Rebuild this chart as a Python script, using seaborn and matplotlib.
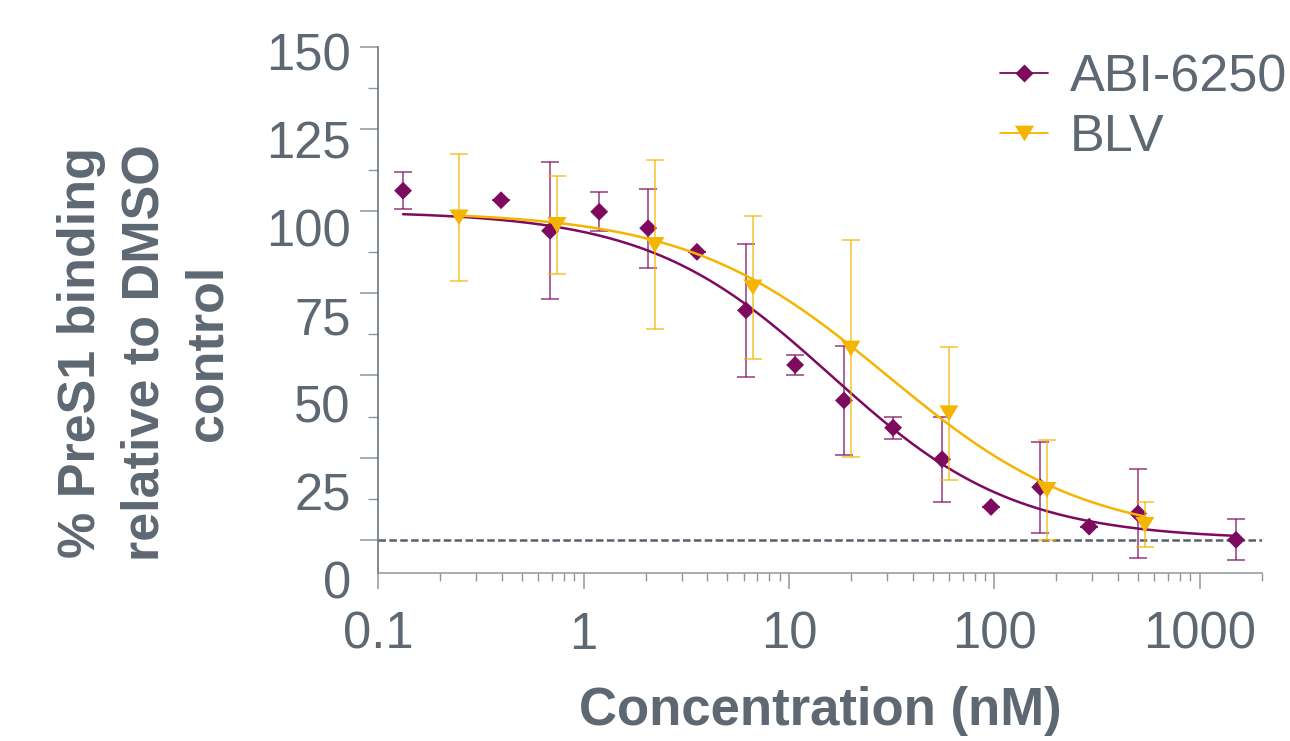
import numpy as np
import pandas as pd
import matplotlib
matplotlib.use("Agg")
import matplotlib.pyplot as plt
import seaborn as sns
from matplotlib.path import Path
from matplotlib.lines import Line2D
from matplotlib.ticker import FixedLocator, AutoMinorLocator, LogLocator, NullFormatter

# ---------------- data ----------------
abi_conc = [0.132, 0.396, 0.686, 1.19, 2.06, 3.56, 6.17, 10.7, 18.5, 32.1, 55.6, 96.2, 167, 289, 500, 1500]
abi_mean = [106.2, 103.3, 94.0, 99.8, 94.8, 87.6, 69.8, 53.2, 42.4, 34.1, 24.5, 10.0, 16.0, 4.0, 8.0, 0.0]
abi_sd = [5.7, 0.0, 20.8, 6.0, 12.0, 0.0, 20.3, 3.0, 16.5, 3.3, 13.0, 0.0, 13.9, 0.0, 13.5, 6.2]

blv_conc = [0.247, 0.741, 2.22, 6.67, 20, 60, 180, 540]
blv_mean = [98.1, 95.8, 89.7, 76.8, 58.2, 38.5, 15.2, 4.6]
blv_sd = [19.4, 15.0, 25.7, 21.7, 33.0, 20.3, 15.2, 6.9]

# four-parameter logistic fit parameters
abi_fit = dict(top=100.0, bottom=0.0, ic50=16.0, hill=0.97)
blv_fit = dict(top=100.0, bottom=0.0, ic50=30.0, hill=0.89)

series_names = ["ABI-6250", "BLV"]
x_ticks = [0.1, 1, 10, 100, 1000]
x_tick_labels = ["0.1", "1", "10", "100", "1000"]
y_ticks = [0, 25, 50, 75, 100, 125, 150]
y_tick_labels = ["0", "25", "50", "75", "100", "125", "150"]
baseline_value = 0.0

# ---------------- style ----------------
PURPLE = "#7e0a60"
GOLD = "#f5b400"
GRAY = "#5d6872"
AXGRAY = "#8e979e"
YSPINE = "#5f6a73"
DASH = "#56606a"

sns.set_style("ticks")
plt.rcParams["font.family"] = ["Liberation Sans", "DejaVu Sans"]

W, H = 1290, 741
fig = plt.figure(figsize=(W / 100, H / 100), dpi=100)

ax_left, ax_right, ax_top, ax_bottom = 378.3, 1261.7, 46.7, 572.7
ax = fig.add_axes([ax_left / W, 1 - ax_bottom / H, (ax_right - ax_left) / W, (ax_bottom - ax_top) / H])
ax.set_xscale("log")
ax.set_xlim(0.1, 2000)
ax.set_ylim(-10, 150)


def logistic(c, p):
    c = np.asarray(c, dtype=float)
    return p["bottom"] + (p["top"] - p["bottom"]) / (1 + (c / p["ic50"]) ** p["hill"])


tri_path = Path([(-1, 0.82), (1, 0.82), (0, -0.82), (-1, 0.82)],
                [Path.MOVETO, Path.LINETO, Path.LINETO, Path.CLOSEPOLY])

DIAMOND_MS = 9.1
TRI_MS = 13.8
specs = [
    (abi_conc, abi_mean, abi_sd, abi_fit, PURPLE, "D", DIAMOND_MS),
    (blv_conc, blv_mean, blv_sd, blv_fit, GOLD, tri_path, TRI_MS),
]

z = 2
for conc, mean, sd, fit, color, marker, ms in specs:
    ax.errorbar(conc, mean, yerr=sd, fmt="none", ecolor=color, elinewidth=1.1,
                capsize=6.4, capthick=1.1, alpha=0.8, zorder=z)
    xs = np.logspace(np.log10(min(conc)), np.log10(max(conc)), 400)
    curve = pd.DataFrame({"x": xs, "y": logistic(xs, fit)})
    sns.lineplot(data=curve, x="x", y="y", color=color, lw=1.8, estimator=None,
                 ax=ax, zorder=z + 1)
    pts = pd.DataFrame({"x": conc, "y": mean})
    sns.scatterplot(data=pts, x="x", y="y", marker=marker, s=ms ** 2, color=color,
                    edgecolor="none", linewidth=0, ax=ax, zorder=z + 2)
    z += 3

ax.axhline(baseline_value, color=DASH, lw=1.8, dashes=(3, 1.35), zorder=1)

# axes styling
sns.despine(ax=ax)
ax.spines["bottom"].set_color(AXGRAY)
ax.spines["left"].set_color(YSPINE)
for s in ("bottom", "left"):
    ax.spines[s].set_linewidth(1.1)

ax.xaxis.set_major_locator(FixedLocator(x_ticks))
ax.set_xticklabels(x_tick_labels)
ax.xaxis.set_minor_locator(LogLocator(base=10, subs=np.arange(2, 10)))
ax.xaxis.set_minor_formatter(NullFormatter())
ax.tick_params(axis="x", which="major", length=11.3, width=1.1, color=AXGRAY,
               labelsize=36.5, labelcolor=GRAY, pad=16)
ax.tick_params(axis="x", which="minor", length=5.8, width=1.0, color=AXGRAY)

ax.yaxis.set_major_locator(FixedLocator(y_ticks))
ax.yaxis.set_minor_locator(AutoMinorLocator(2))
ax.tick_params(axis="y", which="major", length=13, width=1.1, color=AXGRAY, labelleft=False)
ax.tick_params(axis="y", which="minor", length=7, width=1.0, color=AXGRAY)

# y tick labels (drawn on a label axis spanning the label positions of the reference)
lab_top, lab_bottom = 51.7, 579.7
lab_ax = fig.add_axes([ax_left / W, 1 - lab_bottom / H, (ax_right - ax_left) / W,
                       (lab_bottom - lab_top) / H], zorder=-1)
lab_ax.patch.set_visible(False)
for s in lab_ax.spines.values():
    s.set_visible(False)
lab_ax.set_ylim(0, 150)
lab_ax.set_yticks(y_ticks)
lab_ax.set_yticklabels(y_tick_labels)
lab_ax.set_xticks([])
lab_ax.tick_params(axis="y", length=0, pad=19.7, labelsize=36.5, labelcolor=GRAY)

# axis titles
ax.set_xlabel("Concentration (nM)", fontsize=38, fontweight="bold", color=GRAY, va="baseline")
ax.xaxis.set_label_coords(0.5, (ax_bottom - 725) / (ax_bottom - ax_top))
ax.set_ylabel("% PreS1 binding\nrelative to DMSO\ncontrol", fontsize=37.5, fontweight="bold",
              color=GRAY, va="center", ha="center", multialignment="center", linespacing=1.38)
ax.yaxis.set_label_coords(145 / W, 1 - 353 / H, transform=fig.transFigure)

# legend
handles = [
    Line2D([], [], color=PURPLE, lw=1.3, marker="D", ms=DIAMOND_MS, mec="none"),
    Line2D([], [], color=GOLD, lw=1.3, marker=tri_path, ms=TRI_MS, mec="none"),
]
fig.legend(handles, series_names, loc="upper right", bbox_to_anchor=(1287 / W, 1 - 53 / H),
           frameon=False, fontsize=37.5, handlelength=0.91, handletextpad=0.42,
           labelspacing=0.22, borderpad=0, borderaxespad=0, labelcolor=GRAY)

fig.savefig("out.png", dpi=100)
